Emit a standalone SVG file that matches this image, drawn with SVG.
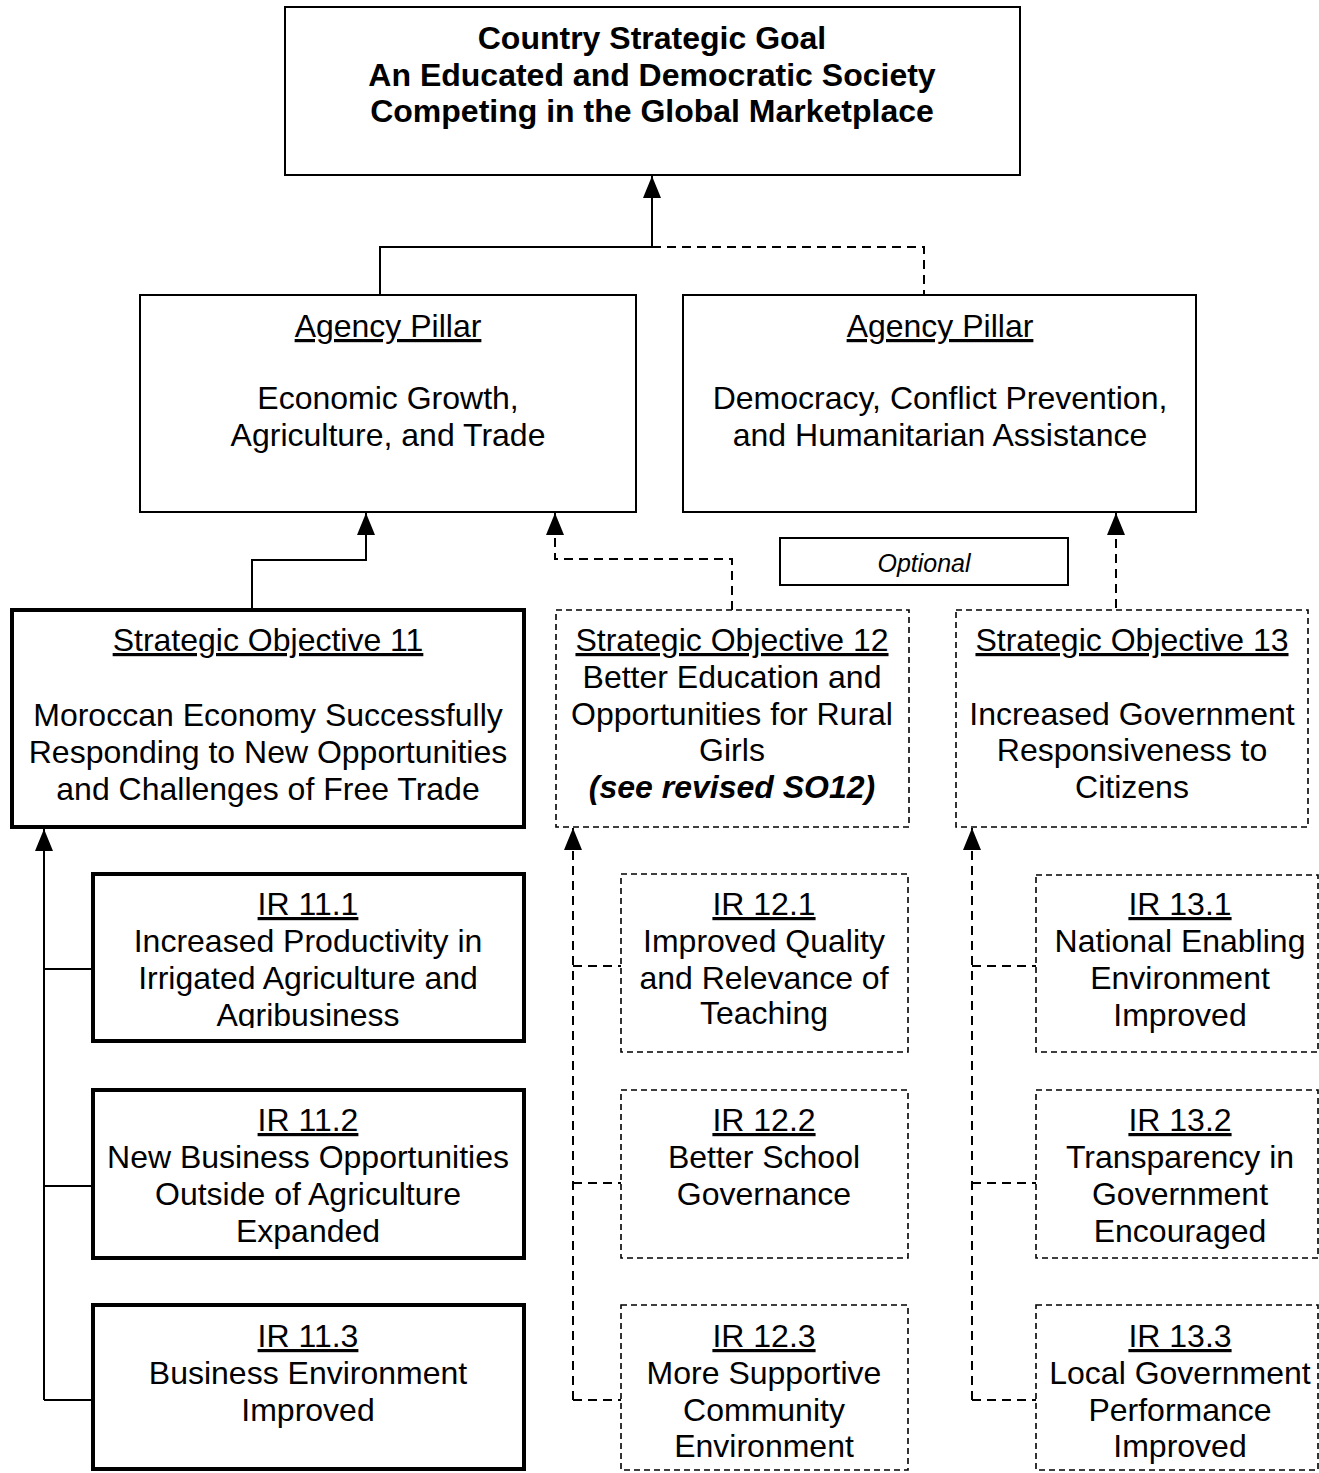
<svg xmlns="http://www.w3.org/2000/svg" width="1319" height="1473" viewBox="0 0 1319 1473">
<style>
text{font-family:"Liberation Sans",Arial,sans-serif;font-size:32px;fill:#000;text-anchor:middle}
.b{font-weight:bold}
.u{text-decoration:underline}
.bi{font-weight:bold;font-style:italic}
.opt{font-style:italic;font-size:25px}
.box{fill:#fff;stroke:#000;stroke-width:2}
.thick{fill:#fff;stroke:#000;stroke-width:4}
.dbox{fill:#fff;stroke:#000;stroke-width:1.6;stroke-dasharray:6,4}
.c{fill:none;stroke:#000;stroke-width:2}
.d{fill:none;stroke:#000;stroke-width:2;stroke-dasharray:9,6}
</style>
<defs>
<marker id="ah" markerUnits="userSpaceOnUse" markerWidth="22" markerHeight="18" refX="22" refY="9" orient="auto">
<path d="M0,0 L22,9 L0,18 z" fill="#000"/>
</marker>
<clipPath id="clipAgri"><rect x="93" y="990" width="431" height="38"/></clipPath>
</defs>
<rect width="1319" height="1473" fill="#fff"/>
<g id="connectors">
<path class="c" d="M652,247 L652,176" marker-end="url(#ah)"/>
<path class="c" d="M380,295 L380,247 L652,247"/>
<path class="d" d="M652,247 L924,247 L924,295"/>
<path class="c" d="M252,610 L252,560 L366,560 L366,513" marker-end="url(#ah)"/>
<path class="d" d="M732,610 L732,559 L555,559 L555,513" marker-end="url(#ah)"/>
<path class="d" d="M1116,608 L1116,513" marker-end="url(#ah)"/>
<path class="c" d="M44,1400 L44,829" marker-end="url(#ah)"/>
<path class="c" d="M44,969 L93,969 M44,1186 L93,1186 M44,1400 L93,1400"/>
<path class="d" d="M573,1400 L573,828" marker-end="url(#ah)"/>
<path class="d" d="M573,966 L621,966 M573,1183 L621,1183 M573,1400 L621,1400"/>
<path class="d" d="M972,1400 L972,828" marker-end="url(#ah)"/>
<path class="d" d="M972,966 L1036,966 M972,1183 L1036,1183 M972,1400 L1036,1400"/>
</g>
<g id="goal">
<rect class="box" x="285" y="7" width="735" height="168"/>
<text class="b" x="652" y="49">Country Strategic Goal</text>
<text class="b" x="652" y="86">An Educated and Democratic Society</text>
<text class="b" x="652" y="122">Competing in the Global Marketplace</text>
</g>
<g id="pillar-eg">
<rect class="box" x="140" y="295" width="496" height="217"/>
<text class="u" x="388" y="337">Agency Pillar</text>
<text x="388" y="409">Economic Growth,</text>
<text x="388" y="446">Agriculture, and Trade</text>
</g>
<g id="pillar-dem">
<rect class="box" x="683" y="295" width="513" height="217"/>
<text class="u" x="940" y="337">Agency Pillar</text>
<text x="940" y="409">Democracy, Conflict Prevention,</text>
<text x="940" y="446">and Humanitarian Assistance</text>
</g>
<g id="optional">
<rect class="box" x="780" y="538" width="288" height="47"/>
<text class="opt" x="924" y="572">Optional</text>
</g>
<g id="so11">
<rect class="thick" x="12" y="610" width="512" height="217"/>
<text class="u" x="268" y="651">Strategic Objective 11</text>
<text x="268" y="726">Moroccan Economy Successfully</text>
<text x="268" y="763">Responding to New Opportunities</text>
<text x="268" y="800">and Challenges of Free Trade</text>
</g>
<g id="so12">
<rect class="dbox" x="556" y="610" width="353" height="217"/>
<text class="u" x="732" y="651">Strategic Objective 12</text>
<text x="732" y="688">Better Education and</text>
<text x="732" y="725">Opportunities for Rural</text>
<text x="732" y="761">Girls</text>
<text class="bi" x="732" y="798">(see revised SO12)</text>
</g>
<g id="so13">
<rect class="dbox" x="956" y="610" width="352" height="217"/>
<text class="u" x="1132" y="651">Strategic Objective 13</text>
<text x="1132" y="725">Increased Government</text>
<text x="1132" y="761">Responsiveness to</text>
<text x="1132" y="798">Citizens</text>
</g>
<g id="ir11-1">
<rect class="thick" x="93" y="874" width="431" height="167"/>
<text class="u" x="308" y="915">IR 11.1</text>
<text x="308" y="952">Increased Productivity in</text>
<text x="308" y="989">Irrigated Agriculture and</text>
<text x="308" y="1026" clip-path="url(#clipAgri)">Agribusiness</text>
</g>
<g id="ir11-2">
<rect class="thick" x="93" y="1090" width="431" height="168"/>
<text class="u" x="308" y="1131">IR 11.2</text>
<text x="308" y="1168">New Business Opportunities</text>
<text x="308" y="1205">Outside of Agriculture</text>
<text x="308" y="1242">Expanded</text>
</g>
<g id="ir11-3">
<rect class="thick" x="93" y="1305" width="431" height="164"/>
<text class="u" x="308" y="1347">IR 11.3</text>
<text x="308" y="1384">Business Environment</text>
<text x="308" y="1421">Improved</text>
</g>
<g id="ir12-1">
<rect class="dbox" x="621" y="874" width="287" height="178"/>
<text class="u" x="764" y="915">IR 12.1</text>
<text x="764" y="952">Improved Quality</text>
<text x="764" y="989">and Relevance of</text>
<text x="764" y="1024">Teaching</text>
</g>
<g id="ir12-2">
<rect class="dbox" x="621" y="1090" width="287" height="168"/>
<text class="u" x="764" y="1131">IR 12.2</text>
<text x="764" y="1168">Better School</text>
<text x="764" y="1205">Governance</text>
</g>
<g id="ir12-3">
<rect class="dbox" x="621" y="1305" width="287" height="165"/>
<text class="u" x="764" y="1347">IR 12.3</text>
<text x="764" y="1384">More Supportive</text>
<text x="764" y="1421">Community</text>
<text x="764" y="1457">Environment</text>
</g>
<g id="ir13-1">
<rect class="dbox" x="1036" y="875" width="282" height="177"/>
<text class="u" x="1180" y="915">IR 13.1</text>
<text x="1180" y="952">National Enabling</text>
<text x="1180" y="989">Environment</text>
<text x="1180" y="1026">Improved</text>
</g>
<g id="ir13-2">
<rect class="dbox" x="1036" y="1090" width="282" height="168"/>
<text class="u" x="1180" y="1131">IR 13.2</text>
<text x="1180" y="1168">Transparency in</text>
<text x="1180" y="1205">Government</text>
<text x="1180" y="1242">Encouraged</text>
</g>
<g id="ir13-3">
<rect class="dbox" x="1036" y="1305" width="282" height="165"/>
<text class="u" x="1180" y="1347">IR 13.3</text>
<text x="1180" y="1384">Local Government</text>
<text x="1180" y="1421">Performance</text>
<text x="1180" y="1457">Improved</text>
</g>
</svg>
